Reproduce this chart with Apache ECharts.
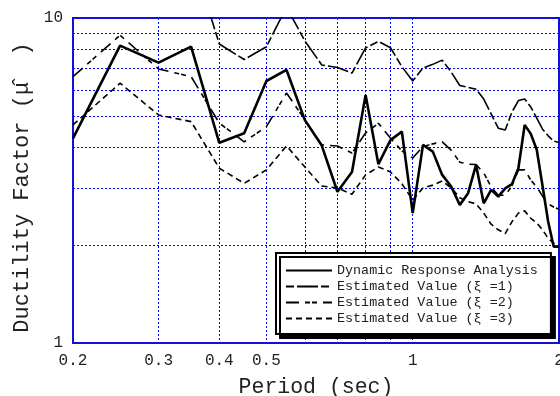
<!DOCTYPE html>
<html>
<head>
<meta charset="utf-8">
<script src="https://cdn.jsdelivr.net/npm/echarts@6/dist/echarts.min.js"></script>
<style>
html,body{margin:0;padding:0;background:#fff;}
#chart{width:560px;height:396px;}
</style>
</head>
<body>
<div id="chart"></div>
<script>
// Period (sec)
var periods = [0.20,0.25,0.30,0.35,0.40,0.45,0.50,0.55,0.60,0.65,0.70,0.75,0.80,0.85,0.90,0.95,1.00,
  1.05,1.10,1.15,1.20,1.25,1.30,1.35,1.40,1.45,1.50,1.55,1.60,1.65,1.70,1.75,1.80,1.85,1.90,1.95,2.00];
// Dynamic Response Analysis
var dynamicResponse = [4.26,8.22,7.29,8.16,4.13,4.42,6.40,6.92,4.85,4.05,2.92,3.36,5.80,3.55,4.21,4.47,2.51,
  4.07,3.88,3.29,3.03,2.66,2.89,3.53,2.69,2.96,2.82,2.99,3.08,3.45,4.69,4.40,3.93,3.04,2.36,1.98,1.98];
// Estimated Value (xi = 1)
var estimated1 = [13.0,15.0,14.0,15.8,8.32,7.45,8.16,10.8,8.50,7.17,7.04,6.77,8.09,8.47,8.10,7.08,6.40,
  7.02,7.20,7.42,6.82,6.20,6.12,6.04,5.63,5.07,4.58,4.52,5.13,5.57,5.63,5.32,4.92,4.55,4.34,4.18,4.14];
// Estimated Value (xi = 2)
var estimated2 = [6.60,8.85,6.97,6.60,4.75,4.16,4.63,5.88,4.86,4.07,4.04,3.84,4.43,4.74,4.27,3.90,3.71,
  4.02,4.10,4.16,3.92,3.60,3.55,3.54,3.34,3.02,2.85,2.85,3.04,3.41,3.41,3.17,3.02,2.83,2.68,2.62,2.58];
// Estimated Value (xi = 3)
var estimated3 = [4.69,6.30,5.03,4.80,3.45,3.10,3.41,4.04,3.48,3.04,3.00,2.87,3.29,3.48,3.36,3.09,2.75,
  3.00,3.06,3.15,3.00,2.80,2.72,2.68,2.51,2.32,2.23,2.17,2.36,2.51,2.55,2.42,2.34,2.23,2.10,2.03,1.96];

var seriesNames = ['Dynamic Response Analysis','Estimated Value (\u03BE =1)','Estimated Value (\u03BE =2)','Estimated Value (\u03BE =3)'];

// Axis ticks / labels
var xLabelValues = [0.2,0.3,0.4,0.5,1,2];
var xGridValues = [0.3,0.4,0.5,0.6,0.7,0.8,0.9,1];
var yLabelValues = [1,10];
var yGridValues = [2,3,4,5,6,7,8,9];

function pairs(vals){ return periods.map(function(p,i){ return [p, vals[i]]; }); }

var FONT = '"Liberation Mono", "Courier New", monospace';
var BLUE = '#1010d8';
var GRID_BLUE = '#0000ff';

var chart = echarts.init(document.getElementById('chart'), null, {renderer:'canvas'});
var option = {
  animation: false,
  backgroundColor: '#fff',
  grid: {left:73, right:1, top:18, bottom:53, containLabel:false, outerBoundsMode:'none',
    show:true, borderColor:BLUE, borderWidth:2, backgroundColor:'transparent'},
  xAxis: {
    type:'log', logBase:10, min:0.2, max:2,
    name:'Period (sec)', nameLocation:'middle', nameGap:33,
    nameTextStyle:{fontFamily:FONT, fontSize:21.5, color:'#222'},
    axisLine:{show:true, onZero:false, lineStyle:{color:BLUE, width:2}},
    axisTick:{show:false, customValues:xGridValues},
    axisLabel:{customValues:xLabelValues, fontFamily:FONT, fontSize:16, color:'#222', margin:10,
      formatter:function(v){ return String(+v.toFixed(2)); }},
    splitLine:{show:true, lineStyle:{color:GRID_BLUE, width:1, type:[2,2]}},
    minorTick:{show:false}, minorSplitLine:{show:false}
  },
  yAxis: {
    type:'log', logBase:10, min:1, max:10,
    name:'Ductility Factor (\u03BC\u0302  )', nameLocation:'middle', nameGap:35,
    nameTextStyle:{fontFamily:FONT, fontSize:22, color:'#222', padding:[0,14,0,0]},
    axisLine:{show:true, onZero:false, lineStyle:{color:BLUE, width:2}},
    axisTick:{show:false, customValues:yGridValues},
    axisLabel:{customValues:yLabelValues, fontFamily:FONT, fontSize:16, color:'#222', margin:10,
      formatter:function(v){ return String(Math.round(v)); }},
    splitLine:{show:true, lineStyle:{color:GRID_BLUE, width:1, type:[2,2]}}
  },
  legend: {
    orient:'vertical', left:276, top:253,
    itemWidth:46, itemHeight:14, itemGap:3,
    padding:[11,13,9,9],
    backgroundColor:'#fff', borderColor:'#000', borderWidth:2,
    shadowColor:'#000', shadowOffsetX:4, shadowOffsetY:4, shadowBlur:0,
    itemStyle:{opacity:0, borderWidth:0},
    textStyle:{fontFamily:FONT, fontSize:13.4, color:'#222'},
    data: seriesNames
  },
  series: [
    {name:seriesNames[0], type:'line', data:pairs(dynamicResponse), symbol:'none', clip:true,
      lineStyle:{color:'#000', width:2.6, type:'solid'}, itemStyle:{color:'#000'}, z:5},
    {name:seriesNames[1], type:'line', data:pairs(estimated1), symbol:'none', clip:true,
      lineStyle:{color:'#000', width:1.6, type:[8,3,21,3]}, itemStyle:{color:'#000'}},
    {name:seriesNames[2], type:'line', data:pairs(estimated2), symbol:'none', clip:true,
      lineStyle:{color:'#000', width:1.6, type:[13,6,5,2,5,6]}, itemStyle:{color:'#000'}},
    {name:seriesNames[3], type:'line', data:pairs(estimated3), symbol:'none', clip:true,
      lineStyle:{color:'#000', width:1.6, type:[6,4]}, itemStyle:{color:'#000'}}
  ]
};
chart.setOption(option);
</script>
</body>
</html>
